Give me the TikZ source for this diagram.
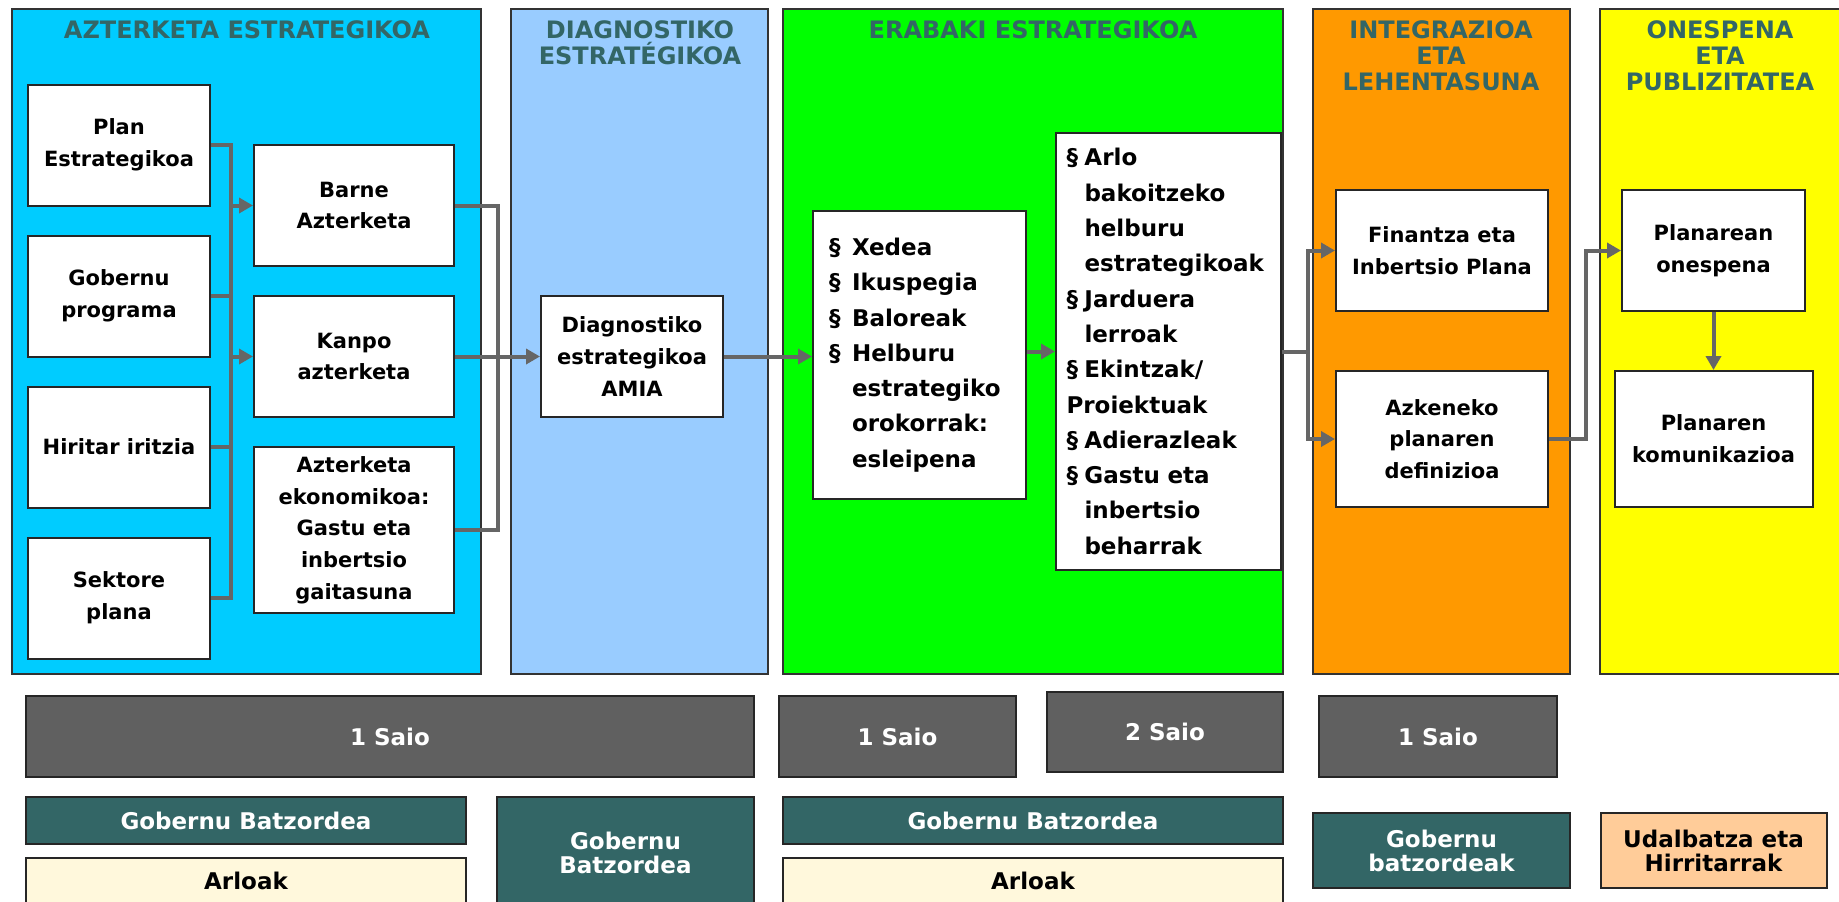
\documentclass[tikz,border=0pt]{standalone}
\usepackage{fontspec}
\setmainfont{DejaVu Sans}
\usetikzlibrary{positioning,arrows.meta}
\definecolor{azter}{HTML}{00CCFF}
\definecolor{diagn}{HTML}{99CCFF}
\definecolor{erab}{HTML}{00FF00}
\definecolor{integ}{HTML}{FF9900}
\definecolor{onesp}{HTML}{FFFF00}
\definecolor{titlec}{HTML}{336666}
\definecolor{saioc}{HTML}{606060}
\definecolor{arloc}{HTML}{FFF8DC}
\definecolor{udalc}{HTML}{FFCC99}
\definecolor{linec}{HTML}{666666}
\newcommand{\secmark}[1]{\makebox[#1][l]{\S}}
\hyphenpenalty=10000
\exhyphenpenalty=10000

\begin{document}
\begin{tikzpicture}[x=1pt,y=-1pt,
  panel/.style={draw=black!80,line width=2pt},
  ptitle/.style={text=titlec,align=center,font=\fontsize{24}{26}\selectfont\bfseries},
  wbox/.style={draw=black!85,fill=white,line width=2pt,align=center,inner sep=0pt,
    font=\fontsize{21}{31.7}\selectfont\bfseries},
  leftbox/.style={wbox,minimum width=182pt,minimum height=121pt},
  midbox/.style={wbox,minimum width=200pt,minimum height=121pt},
  listbox/.style={wbox,align=left,font=\fontsize{23}{35.3}\selectfont\bfseries},
  saio/.style={draw=black!85,fill=saioc,line width=2pt,text=white,align=center,
    minimum height=81pt,font=\fontsize{23}{24}\selectfont\bfseries},
  batz/.style={saio,fill=titlec,minimum height=47pt},
  arlo/.style={saio,fill=arloc,text=black,minimum height=46pt},
  conn/.style={draw=linec,line width=4pt},
  arr/.style={conn,-{Triangle[length=14pt,width=15pt]}}]
  \useasboundingbox (0,0) rectangle (1839,902);
  \clip (0,0) rectangle (1839,902);

  \draw[panel,fill=azter] (12,9) rectangle (481,674);
  \draw[panel,fill=diagn] (511,9) rectangle (768,674);
  \draw[panel,fill=erab] (783,9) rectangle (1283,674);
  \draw[panel,fill=integ] (1313,9) rectangle (1570,674);
  \draw[panel,fill=onesp] (1600,9) rectangle (1850,674);

  \node (t1) [ptitle] at (247,30) {AZTERKETA ESTRATEGIKOA};
  \node (t2) [ptitle] at (640,43) {DIAGNOSTIKO\\ESTRATÉGIKOA};
  \node (t3) [ptitle] at (1033,30) {ERABAKI ESTRATEGIKOA};
  \node (t4) [ptitle] at (1441,56) {INTEGRAZIOA\\ETA\\LEHENTASUNA};
  \node (t5) [ptitle] at (1720,56) {ONESPENA\\ETA\\PUBLIZITATEA};

  \node (plan) [leftbox] at (119,145) {Plan\\Estrategikoa};
  \node (gob) [leftbox, below=28pt of plan] {Gobernu\\programa};
  \node (hiri) [leftbox, below=28pt of gob] {Hiritar iritzia};
  \node (sekt) [leftbox, below=28pt of hiri] {Sektore\\plana};

  \node (barne) [midbox] at (354,205.5) {Barne\\Azterketa};
  \node (kanpo) [midbox, below=28pt of barne] {Kanpo\\azterketa};
  \node (ekon) [midbox, minimum height=166pt, below=28pt of kanpo]
    {Azterketa\\ekonomikoa:\\Gastu eta\\inbertsio\\gaitasuna};

  \node (diag) [leftbox, right=85pt of kanpo] {Diagnostiko\\estrategikoa\\AMIA};

  \node (xedea) [listbox, minimum width=213pt, minimum height=288pt, text width=181pt]
    at (919.5,355) {\secmark{23pt}Xedea\\
      \secmark{23pt}Ikuspegia\\
      \secmark{23pt}Baloreak\\
      \secmark{23pt}Helburu\\
      \hspace*{23pt}estrategiko\\
      \hspace*{23pt}orokorrak:\\
      \hspace*{23pt}esleipena};
  \node (arlo) [listbox, minimum width=225pt, minimum height=437pt, text width=204pt]
    at (1168.5,351.5) {\secmark{18pt}Arlo\\
      \hspace*{18pt}bakoitzeko\\
      \hspace*{18pt}helburu\\
      \hspace*{18pt}estrategikoak\\
      \secmark{18pt}Jarduera\\
      \hspace*{18pt}lerroak\\
      \secmark{18pt}Ekintzak/\\
      Proiektuak\\
      \secmark{18pt}Adierazleak\\
      \secmark{18pt}Gastu eta\\
      \hspace*{18pt}inbertsio\\
      \hspace*{18pt}beharrak};

  \node (fin) [wbox, minimum width=212pt, minimum height=121pt] at (1442,250.5)
    {Finantza eta\\Inbertsio Plana};
  \node (azk) [wbox, minimum width=212pt, minimum height=136pt, below=58pt of fin]
    {Azkeneko\\planaren\\definizioa};
  \node (onesp) [leftbox, minimum width=183pt, right=72pt of fin] {Planarean\\onespena};
  \node (komun) [wbox, minimum width=198pt, minimum height=136pt, below=58pt of onesp]
    {Planaren\\komunikazioa};

  \node (saio1) [saio, minimum width=728pt] at (390,736.5) {1 Saio};
  \node (saio2) [saio, minimum width=237pt] at (897.5,736.5) {1 Saio};
  \node (saio3) [saio, minimum width=236pt, minimum height=80pt] at (1165,732) {2 Saio};
  \node (saio4) [saio, minimum width=238pt] at (1438,736.5) {1 Saio};

  \node (batz1) [batz, minimum width=440pt] at (246,820.5) {Gobernu Batzordea};
  \node (arlo1) [arlo, minimum width=440pt] at (246,881) {Arloak};
  \node (batz2) [batz, minimum width=257pt, minimum height=112pt] at (625.5,853) {Gobernu\\Batzordea};
  \node (batz3) [batz, minimum width=500pt] at (1033,820.5) {Gobernu Batzordea};
  \node (arlo2) [arlo, minimum width=500pt] at (1033,881) {Arloak};
  \node (batz4) [batz, minimum width=257pt, minimum height=75pt] at (1441.5,850.5) {Gobernu\\batzordeak};
  \node (udal) [arlo, fill=udalc, minimum width=226pt, minimum height=75pt] at (1713.5,850.5)
    {Udalbatza eta\\Hirritarrak};

  \coordinate (busA) at (231,0);
  \coordinate (colA) at (498,0);
  \coordinate (busB) at (1308,0);
  \coordinate (busC) at (1586,0);

  \draw[conn] (plan.east) -- (plan.east -| busA) -- (sekt.east -| busA) -- (sekt.east);
  \draw[conn] (gob.east) -- (gob.east -| busA);
  \draw[conn] (hiri.east) -- (hiri.east -| busA);
  \draw[arr] (barne.west -| busA) -- (barne.west);
  \draw[arr] (kanpo.west -| busA) -- (kanpo.west);
  \draw[conn] (barne.east) -- (barne.east -| colA) -- (ekon.east -| colA) -- (ekon.east);
  \draw[arr] (kanpo.east) -- (diag.west);
  \draw[arr] (diag.east) -- (diag.east -| xedea.west);
  \draw[arr] (arlo.west -| xedea.east) -- (arlo.west);
  \draw[conn] (arlo.east) -- (arlo.east -| busB);
  \draw[conn, line cap=rect] (fin.west -| busB) -- (azk.west -| busB);
  \draw[arr] (fin.west -| busB) -- (fin.west);
  \draw[arr] (azk.west -| busB) -- (azk.west);
  \draw[arr] (azk.east) -- (azk.east -| busC) |- (onesp.west);
  \draw[arr] (onesp.south) -- (komun.north);
\end{tikzpicture}
\end{document}
